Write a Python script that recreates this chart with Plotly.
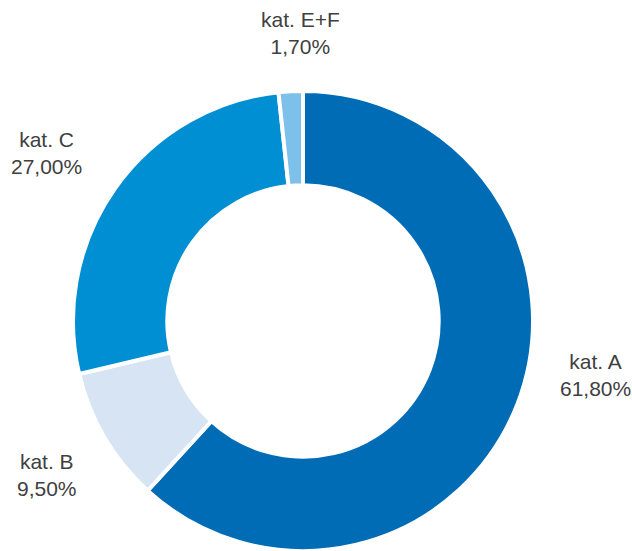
import plotly.graph_objects as go

categories = ["kat. A", "kat. B", "kat. C", "kat. E+F"]
values = [61.8, 9.5, 27.0, 1.7]
value_labels = ["61,80%", "9,50%", "27,00%", "1,70%"]

colors = ["#006CB5", "#D6E4F4", "#008FD2", "#7DC0EA"]
# label block centres in pixels (x from left, y from top)
label_pos = [(595, 375), (47, 475), (47, 153), (300, 33)]

W, H = 632, 551
cx, cy, R = 303, 321, 230

fig = go.Figure(go.Pie(
    labels=categories,
    values=values,
    sort=False,
    direction="clockwise",
    rotation=0,
    hole=0.59,
    textinfo="none",
    hoverinfo="label+percent",
    marker=dict(colors=colors, line=dict(color="white", width=4)),
    domain=dict(x=[(cx - R) / W, (cx + R) / W], y=[(H - cy - R) / H, (H - cy + R) / H]),
    showlegend=False,
))

for cat, lab, (px, py) in zip(categories, value_labels, label_pos):
    fig.add_annotation(
        x=px / W, y=1 - py / H, xref="paper", yref="paper",
        text=f"{cat}<br>{lab}", showarrow=False,
        font=dict(family="Liberation Sans, Arial, sans-serif", size=21, color="#404040"),
        xanchor="center", yanchor="middle", align="center",
    )

fig.update_layout(
    width=W, height=H,
    margin=dict(l=0, r=0, t=0, b=0),
    paper_bgcolor="white", plot_bgcolor="white",
)

fig.write_html(
    "out.html",
    config={"displayModeBar": False},
    post_script="document.body.style.margin='0';document.body.style.overflow='hidden';",
)
